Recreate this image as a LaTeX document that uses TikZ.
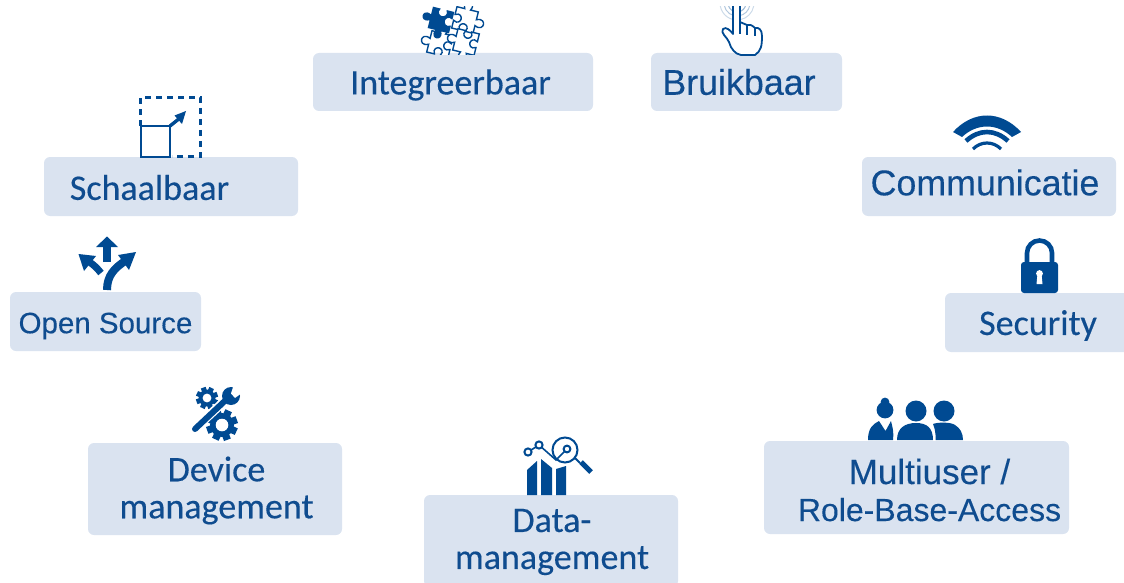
\documentclass[tikz,border=0pt]{standalone}
\usepackage{fontspec}
\setmainfont{Carlito}[FakeBold=0.3]
\newfontfamily\helv{Liberation Sans}[FakeBold=0.2]
\definecolor{boxfill}{HTML}{DAE3F0}
\definecolor{ink}{HTML}{004A92}
\definecolor{txt}{HTML}{0F4C8F}
\tikzset{
  panel/.style={fill=boxfill,draw=none,rounded corners=6pt},
  lab/.style={text=txt,inner sep=0pt,align=center,font=\fontsize{36}{37}\selectfont},
  labh/.style={text=txt,inner sep=0pt,align=center,font=\helv\fontsize{35.8}{37}\selectfont},
  labs/.style={text=txt,inner sep=0pt,align=center,font=\helv\fontsize{29.5}{37}\selectfont},
  labm/.style={text=txt,inner sep=0pt,align=center,font=\helv\fontsize{32}{37}\selectfont},
}
\newcommand{\gearicon}[3]{% x y r
  \fill[ink] (#1,#2) circle (#3*0.8);
  \foreach \a in {0,45,...,315}{
    \fill[ink,shift={(#1,#2)},rotate=\a+20] (#3*0.7,-#3*0.24) rectangle (#3*1.05,#3*0.24);
  }
  \fill[white] (#1,#2) circle (#3*0.42);
}
\newcommand{\puzzlepiece}[4]{% x y rot style
  \path[#4,shift={(#1,#2)},rotate=#3]
    (-11,-11) -- (-3,-11) .. controls (-6,-17) and (-2,-19) .. (0,-19) .. controls (2,-19) and (6,-17) .. (3,-11)
    -- (11,-11) -- (11,-3) .. controls (17,-6) and (19,-2) .. (19,0) .. controls (19,2) and (17,6) .. (11,3)
    -- (11,11) -- (3,11) .. controls (6,6) and (2,4) .. (0,4) .. controls (-2,4) and (-6,6) .. (-3,11)
    -- (-11,11) -- (-11,3) .. controls (-6,6) and (-4,2) .. (-4,0) .. controls (-4,-2) and (-6,-6) .. (-11,-3) -- cycle;
}
\begin{document}
\begin{tikzpicture}[x=1pt,y=-1pt]
\useasboundingbox (0,0) rectangle (1124,583);
% panels
\node[panel,minimum width=280pt,minimum height=58pt] (integ) at (453,82) {};
\node[panel,minimum width=191pt,minimum height=58pt] (bruik) at (746.5,82) {};
\node[panel,minimum width=254pt,minimum height=59pt] (comm) at (989,186.5) {};
\node[panel,minimum width=254pt,minimum height=59pt] (schaal) at (171,186.5) {};
\node[panel,minimum width=191pt,minimum height=59pt] (open) at (105.5,321.5) {};
\node[panel,minimum width=190pt,minimum height=59pt] (sec) at (1040,322.5) {};
\node[panel,minimum width=254pt,minimum height=92pt] (dev) at (215,489) {};
\node[panel,minimum width=254pt,minimum height=92pt] (data) at (551,541) {};
\node[panel,minimum width=305pt,minimum height=93pt] (multi) at (916.5,487.5) {};
% labels
\node[lab] (tinteg) at (450.5,85) {Integreerbaar};
\node[labh] (tbruik) at (739,82) {Bruikbaar};
\node[labh] (tcomm) at (985,182.5) {Communicatie};
\node[lab] (tschaal) at (149.5,187.5) {Schaalbaar};
\node[labs] (topen) at (105.5,326) {Open Source};
\node[lab] (tsec) at (1038,325.5) {Security};
\node[lab] (tdev) at (216.5,490.5) {Device\\management};
\node[lab] (tdata) at (552,542) {Data-\\management};
\node[labm] (tmulti) at (929.5,490) {{\fontsize{35}{37}\selectfont Multiuser /}\\Role-Base-Access};
% puzzle icon
\begin{scope}
\clip (415,7) rectangle (495,55);
\puzzlepiece{465}{20}{-14}{draw=ink,line width=1.4pt,fill=white}
\puzzlepiece{440}{44}{76}{draw=ink,line width=1.4pt,fill=white}
\puzzlepiece{466}{42}{166}{draw=ink,line width=1.4pt,fill=white}
\puzzlepiece{441}{20}{166}{fill=ink}
\end{scope}
% hand icon
\begin{scope}
\clip (715,7) rectangle (770,57);
\foreach \r/\o in {9/.4,13/.3,17/.2}{
  \draw[ink,opacity=\o,line width=1pt] (737,3) ++(170:\r) arc (170:10:\r);
}
\draw[ink,line width=1.8pt,fill=white,line join=round]
  (733,4) -- (733,34) .. controls (731,31) and (726,26) .. (723,29)
  .. controls (720,33) and (727,37) .. (729,42) .. controls (731,49) and (735,54) .. (741,55)
  -- (755,55) .. controls (761,51) and (762,46) .. (762,36)
  .. controls (762,30) and (759,27) .. (755,28) .. controls (752,25) and (749,24) .. (747,25)
  -- (740,22) -- (740,4) -- cycle;
\draw[ink,line width=1.5pt] (747,25) -- (747,35) (755,28) -- (755,36) (740,22) -- (740,34);
\end{scope}
% wifi icon
\fill[ink] (953,132) .. controls (973,110) and (1001,110) .. (1021,132) -- (1012,137) .. controls (997,123) and (977,123) .. (962,137) -- cycle;
\draw[ink,line width=4.6pt] (966,141) .. controls (979,129) and (995,129) .. (1008,141);
\draw[ink,line width=3.2pt] (973,149) .. controls (981,141) and (993,141) .. (1001,149);
% lock icon
\draw[ink,line width=4.6pt] (1027,264) -- (1027,253) arc (180:360:12.5) -- (1052,264);
\fill[ink,rounded corners=3pt] (1021,262) rectangle (1058,293);
\fill[white] (1039.5,273.5) circle (3.4);
\fill[white] (1037.5,274) -- (1041.5,274) -- (1042.5,284) -- (1036.5,284) -- cycle;
% scale icon
\draw[ink,line width=2.4pt,dash pattern=on 6pt off 5pt] (140.5,126) -- (140.5,97.5) -- (200.5,97.5) -- (200.5,156.5) -- (172,156.5);
\draw[ink,line width=2pt] (141,126) rectangle (170,156.5);
\draw[ink,line width=3.4pt] (170,126) -- (180,118);
\fill[ink] (186,111) -- (174.5,115.5) -- (182,124) -- cycle;
% open source arrows
\draw[ink,line width=8pt] (107,290) .. controls (107,275) and (115,268) .. (125,261);
\fill[ink] (136,252) -- (118,255) -- (129,270) -- cycle;
\draw[ink,line width=8.5pt] (107,262) -- (107,246);
\fill[ink] (107,236.5) -- (96,247) -- (118,247) -- cycle;
\draw[ink,line width=7pt] (101,273) .. controls (97,268) and (94,265) .. (88,261);
\fill[ink] (78.5,254) -- (84,271) -- (96,256) -- cycle;
% tools icon
\gearicon{207}{398}{10.5}
\gearicon{222}{425}{15}
\draw[white,line width=9pt] (190,433) -- (230,396);
\fill[white] (231,396) circle (11);
\draw[ink,line width=6pt,line cap=round] (195,429) -- (228,398);
\fill[ink] (231,396) circle (9);
\fill[white] (231,393.5) -- (235,381) -- (246,390) -- (235,398) -- cycle;
% chart icon
\fill[ink] (527,495) -- (527,470) -- (537,461) -- (537,495) -- cycle;
\fill[ink] (541,495) -- (541,459) -- (552,468) -- (552,495) -- cycle;
\fill[ink] (556,495) -- (556,469) -- (566,466) -- (566,495) -- cycle;
\draw[ink,line width=1.6pt] (528,452) -- (539,445) -- (556,460) -- (567,449);
\draw[ink,line width=2pt,fill=white] (528,452) circle (3.6);
\draw[ink,line width=2pt,fill=white] (539,445) circle (3.6);
\draw[ink,line width=2pt] (565,450) circle (12.5);
\draw[ink,line width=2pt,fill=white] (567,449) circle (3.4);
\draw[ink,line width=2pt] (575,458) -- (580,463);
\draw[ink,line width=5pt] (581,462) -- (591,472);
% people icon
\fill[ink] (885,410) circle (8.4);
\fill[ink] (885,402) circle (4.4);
\fill[ink] (868,440) .. controls (868,428) and (873,424) .. (879,421) -- (885.5,431) -- (891,421) .. controls (892,426) and (894,430) .. (893,440) -- cycle;
\fill[ink] (916,411) circle (10.5);
\fill[ink] (897,440) .. controls (897,428) and (905,423) .. (916,423) .. controls (927,423) and (933,428) .. (933,440) -- cycle;
\fill[ink] (944,411) circle (10.5);
\fill[ink] (935.5,440) .. controls (936,431) and (934,427) .. (933,424) .. controls (938,422) and (951,422) .. (955,425) .. controls (960,428) and (963,433) .. (963,440) -- cycle;
\end{tikzpicture}
\end{document}
